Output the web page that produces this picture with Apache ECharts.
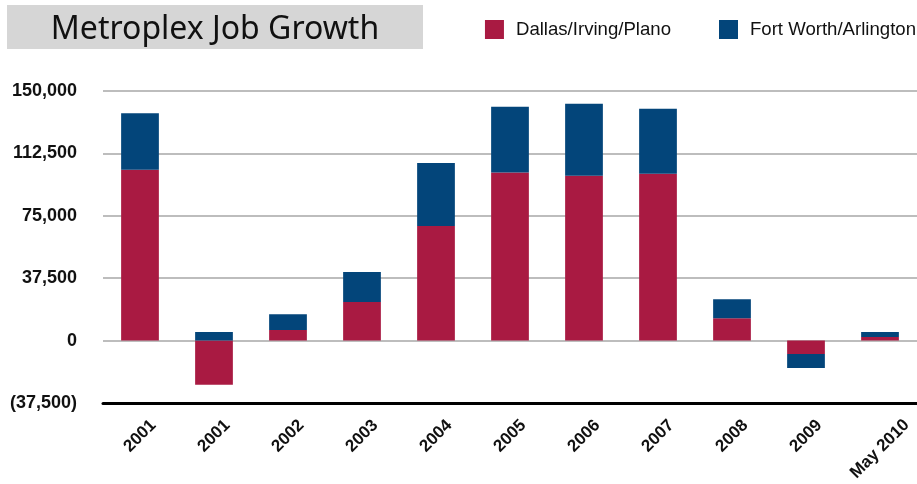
<!DOCTYPE html>
<html><head><meta charset="utf-8">
<script src="https://cdn.jsdelivr.net/npm/echarts@6/dist/echarts.min.js"></script>
<style>html,body{margin:0;padding:0;background:#fff}#c{width:917px;height:484px}</style>
</head><body><div id="c"></div>
<script>
const categories = ['2001','2001','2002','2003','2004','2005','2006','2007','2008','2009','May 2010'];
const dallas = [102600, -26500, 6300, 23200, 68900, 101000, 99000, 100200, 13500, -8100, 2100];
const fortWorth = [34100, 5100, 9600, 18000, 37900, 39500, 43300, 39100, 11400, -8400, 3000];
const yTicks = [-37500, 0, 37500, 75000, 112500, 150000];

const chart = echarts.init(document.getElementById('c'));
function fmt(v){
  const s = Math.abs(v).toLocaleString('en-US');
  return v < 0 ? '(' + s + ')' : s;
}
const lastIdx = categories.length - 1;
const labelBase = {rotate:45, interval:0, align:'center', verticalAlign:'middle', hideOverlap:false,
  fontFamily:'Liberation Sans', fontWeight:'bold', fontSize:17, color:'#111'};
chart.setOption({
  animation: false,
  graphic: [
    {type:'rect', shape:{x:7,y:5,width:416,height:44}, style:{fill:'#d6d6d6'}},
    {type:'text', x:215, y:30, style:{text:'Metroplex Job Growth', fill:'#111', font:'32px "Noto Sans"', align:'center', verticalAlign:'middle'}}
  ],
  legend: {
    right: 1, top: 20, padding: 0, itemWidth: 19, itemHeight: 19, itemGap: 48,
    icon: 'rect',
    textStyle: {fontFamily:'Liberation Sans', fontSize:18.6, color:'#111', padding:[0,0,0,7]},
    data: ['Dallas/Irving/Plano','Fort Worth/Arlington']
  },
  grid: {left: 103, right: 0, top: 91, bottom: 81, containLabel: false, outerBoundsMode: 'none'},
  xAxis: [{
    type: 'category', data: categories, position: 'bottom',
    axisLine: {onZero:false, lineStyle:{color:'#000', width:3}},
    axisTick: {show:false},
    axisLabel: Object.assign({}, labelBase, {margin:33, formatter: (v, i) => i === lastIdx ? '' : v})
  }, {
    type: 'category', data: categories, position: 'bottom', offset: 0,
    axisLine: {show:false}, axisTick: {show:false}, splitLine: {show:false},
    axisLabel: Object.assign({}, labelBase, {margin:46, formatter: (v, i) => i === lastIdx ? v : ''})
  }],
  yAxis: {
    type: 'value', min: yTicks[0], max: yTicks[yTicks.length-1], interval: 37500,
    axisLine:{show:false}, axisTick:{show:false},
    splitLine:{lineStyle:{color:'#bdbdbd', width:2}},
    axisLabel:{formatter: fmt, margin: 26, fontFamily:'Liberation Sans', fontWeight:'bold', fontSize:18, color:'#111'}
  },
  series: [
    {name:'Dallas/Irving/Plano', type:'bar', stack:'a', data:dallas, barWidth:'51%', itemStyle:{color:'#a91a42'}},
    {name:'Fort Worth/Arlington', type:'bar', stack:'a', data:fortWorth, barWidth:'51%', itemStyle:{color:'#03457a'}}
  ]
});
</script></body></html>
